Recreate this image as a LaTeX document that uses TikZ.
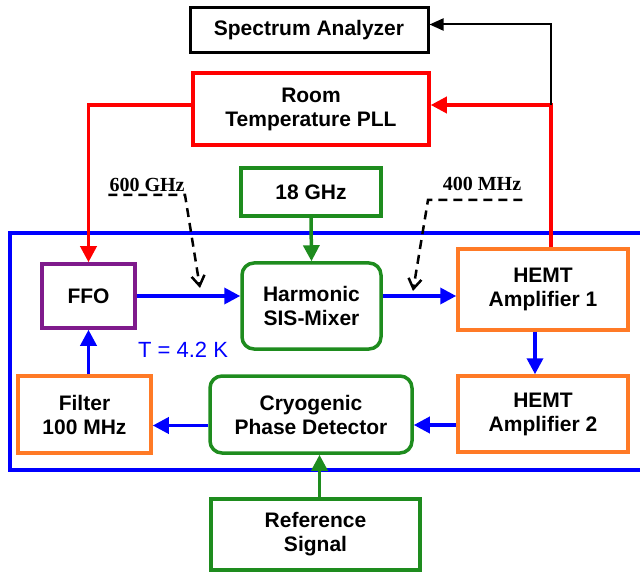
\documentclass[tikz,border=0pt]{standalone}
\usepackage{fontspec}
\setmainfont{Liberation Sans}
\newfontfamily\labelserif{Liberation Serif}
\usetikzlibrary{arrows.meta}
\definecolor{pllred}{HTML}{FF0000}
\definecolor{cryoblue}{HTML}{0000FF}
\definecolor{srcgreen}{HTML}{1E8C1E}
\definecolor{amporange}{HTML}{FF7A26}
\definecolor{ffopurple}{HTML}{7F1A8C}
\tikzset{
  block/.style={draw, line width=3.5pt, align=center, inner sep=2pt,
                font=\fontsize{21}{24}\selectfont\bfseries},
  redblock/.style={block, draw=pllred},
  greenblock/.style={block, draw=srcgreen},
  roundblock/.style={greenblock, rounded corners=12pt},
  ampblock/.style={block, draw=amporange},
  blackblock/.style={block, draw=black, line width=3pt},
  sig/.style={line width=3.5pt, -{Triangle[length=16pt,width=16pt]}},
  bluesig/.style={sig, cryoblue},
  dashsig/.style={line width=2.5pt, dash pattern=on 9pt off 6pt,
                  -{Straight Barb[length=10pt,width=13pt,line width=2.5pt]}},
  freqlabel/.style={inner sep=1pt, font=\labelserif\fontsize{20}{22}\selectfont\bfseries},
}
\begin{document}
\begin{tikzpicture}[x=1pt, y=-1pt]
  \useasboundingbox (0,0) rectangle (640,572);
  % cryostat frame
  \draw[cryoblue, line width=4.5pt] (648,233) -- (10,233) -- (10,470) -- (648,470);
  \node[font=\fontsize{22}{24}\selectfont, text=cryoblue] (temp) at (183,350) {T = 4.2 K};

  \node[blackblock, minimum width=238pt, minimum height=45pt] (sa) at (309,30.5) {Spectrum Analyzer};
  \node[redblock, minimum width=236pt, minimum height=72pt] (pll) at (311,109) {Room\\Temperature PLL};
  \node[greenblock, minimum width=140pt, minimum height=48pt] (g18) at (311,192) {18 GHz};
  \node[block, draw=ffopurple, minimum width=93pt, minimum height=64pt] (ffo) at (88.5,296) {FFO};
  \node[roundblock, minimum width=139pt, minimum height=86pt] (mixer) at (311.5,306) {Harmonic\\SIS-Mixer};
  \node[ampblock, minimum width=170pt, minimum height=81pt] (hemt1) at (543,289.5) {HEMT\\Amplifier 1};
  \node[ampblock, minimum width=170pt, minimum height=76pt] (hemt2) at (543,414) {HEMT\\Amplifier 2};
  \node[roundblock, minimum width=202pt, minimum height=77pt] (cpd) at (311,414.5) {Cryogenic\\Phase Detector};
  \node[ampblock, minimum width=133pt, minimum height=77pt] (filter) at (84.5,414.5) {Filter\\100 MHz};
  \node[greenblock, minimum width=209pt, minimum height=71pt] (ref) at (315.5,534.5) {Reference\\Signal};

  \node[freqlabel] (f600) at (147,185) {600 GHz};
  \node[freqlabel] (f400) at (482,184) {400 MHz};
  \coordinate (bend600) at (185,195);
  \coordinate (tip600) at (200,288);
  \coordinate (bend400) at (428,200);
  \coordinate (tip400) at (413,291);
  \coordinate (split) at ([xshift=8pt]hemt1.north |- 0,105);

  % signal paths
  \draw[sig, pllred] ([xshift=8pt]hemt1.north) -- (split) -- (split -| pll.east);
  \draw[line width=2pt, -{Triangle[length=14pt,width=12pt]}] (split) |- ([yshift=6pt]sa.east);
  \draw[sig, pllred] ([yshift=4pt]pll.west) -| (ffo.north);
  \draw[sig, srcgreen] (g18.south) -- (mixer.north);
  \draw[bluesig] (ffo.east) -- (ffo.east -| mixer.west);
  \draw[bluesig] (ffo.east -| mixer.east) -- (ffo.east -| hemt1.west);
  \draw[bluesig] ([xshift=-8pt]hemt1.south) -- ([xshift=-8pt]hemt1.south |- hemt2.north);
  \draw[bluesig] ([yshift=-11pt]hemt2.west) -- ([yshift=-11pt]hemt2.west -| cpd.east);
  \draw[bluesig] ([yshift=-11pt]cpd.west) -- ([yshift=-11pt]cpd.west -| filter.east);
  \draw[bluesig] (filter.north -| ffo.south) -- (ffo.south);
  \draw[sig, srcgreen] ([xshift=4pt]ref.north) -- ([xshift=4pt]ref.north |- cpd.south);
  \draw[dashsig] (bend600 -| f600.west) -- (bend600) -- (tip600);
  \draw[dashsig] (bend400 -| f400.east) -- (bend400) -- (tip400);
\end{tikzpicture}
\end{document}
